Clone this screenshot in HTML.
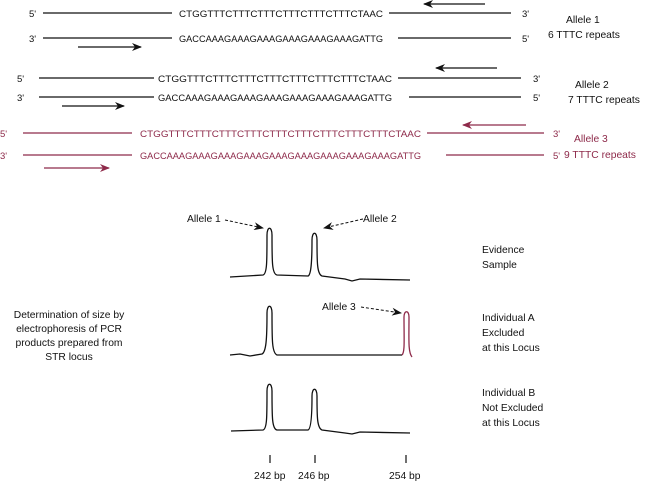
<!DOCTYPE html>
<html><head><meta charset="utf-8"><style>
html,body{margin:0;padding:0;background:#fff;}
svg{display:block;font-family:"Liberation Sans",Arial,sans-serif;}
</style></head><body>
<svg width="650" height="481" viewBox="0 0 650 481" xmlns="http://www.w3.org/2000/svg">
<defs>
<marker id="ab" markerWidth="10" markerHeight="8" refX="9" refY="4" orient="auto" markerUnits="userSpaceOnUse"><path d="M0,0 L10,4 L0,8 L3,4 Z" fill="#111"/></marker>
<marker id="ar" markerWidth="10" markerHeight="8" refX="9" refY="4" orient="auto" markerUnits="userSpaceOnUse"><path d="M0,0 L10,4 L0,8 L3,4 Z" fill="#8e2a4a"/></marker>
<marker id="ad" markerWidth="10" markerHeight="8" refX="9" refY="4" orient="auto" markerUnits="userSpaceOnUse"><path d="M0,0 L10,4 L0,8 L3,4 Z" fill="#111"/></marker>
</defs>
<g font-size="9.5" fill="#111" stroke="none">
<text x="29" y="17">5'</text><text x="29" y="42">3'</text>
<text x="522" y="17">3'</text><text x="522" y="42">5'</text>
<text x="179" y="17" textLength="204" lengthAdjust="spacingAndGlyphs">CTGGTTTCTTTCTTTCTTTCTTTCTTTCTAAC</text>
<text x="179" y="42" textLength="204" lengthAdjust="spacingAndGlyphs">GACCAAAGAAAGAAAGAAAGAAAGAAAGATTG</text>
<text x="17" y="82">5'</text><text x="17" y="101">3'</text>
<text x="533" y="82">3'</text><text x="533" y="101">5'</text>
<text x="158" y="82" textLength="234" lengthAdjust="spacingAndGlyphs">CTGGTTTCTTTCTTTCTTTCTTTCTTTCTTTCTAAC</text>
<text x="158" y="101" textLength="234" lengthAdjust="spacingAndGlyphs">GACCAAAGAAAGAAAGAAAGAAAGAAAGAAAGATTG</text>
</g>
<g font-size="10.3" fill="#111">
<text x="566" y="23">Allele 1</text><text x="548" y="38">6 TTTC repeats</text>
<text x="575" y="88">Allele 2</text><text x="568" y="103">7 TTTC repeats</text>
</g>
<g font-size="9.5" fill="#8e2a4a">
<text x="0" y="137">5'</text><text x="0" y="159">3'</text>
<text x="553" y="137">3'</text><text x="553" y="159">5'</text>
<text x="140" y="137" textLength="281" lengthAdjust="spacingAndGlyphs">CTGGTTTCTTTCTTTCTTTCTTTCTTTCTTTCTTTCTTTCTAAC</text>
<text x="140" y="159" textLength="281" lengthAdjust="spacingAndGlyphs">GACCAAAGAAAGAAAGAAAGAAAGAAAGAAAGAAAGAAAGATTG</text>
<text x="574" y="142" font-size="10.3">Allele 3</text><text x="564" y="158" font-size="10.3">9 TTTC repeats</text>
</g>
<g stroke="#111" stroke-width="1.2">
<line x1="43" y1="13" x2="172" y2="13"/><line x1="389" y1="13" x2="511" y2="13"/>
<line x1="43" y1="38" x2="172" y2="38"/><line x1="398" y1="38" x2="511" y2="38"/>
<line x1="485" y1="4" x2="424" y2="4" marker-end="url(#ab)"/>
<line x1="78" y1="47" x2="141" y2="47" marker-end="url(#ab)"/>
<line x1="39" y1="78" x2="154" y2="78"/><line x1="398" y1="78" x2="521" y2="78"/>
<line x1="39" y1="97" x2="154" y2="97"/><line x1="409" y1="97" x2="521" y2="97"/>
<line x1="497" y1="68" x2="436" y2="68" marker-end="url(#ab)"/>
<line x1="62" y1="106" x2="124" y2="106" marker-end="url(#ab)"/>
</g>
<g stroke="#8e2a4a" stroke-width="1.2">
<line x1="23" y1="133" x2="132" y2="133"/><line x1="427" y1="133" x2="544" y2="133"/>
<line x1="23" y1="155" x2="132" y2="155"/><line x1="446" y1="155" x2="544" y2="155"/>
<line x1="526" y1="125" x2="463" y2="125" marker-end="url(#ar)"/>
<line x1="44" y1="168" x2="109" y2="168" marker-end="url(#ar)"/>
</g>
<g fill="none" stroke="#111" stroke-width="1.3">
<path d="M230,277 L263,275 C267,274 267,262 267,235 C267,226 272,226 272,235 C272,262 272,274 277,275 L308,276 C311,275 312,262 312,240 C312,231 317,231 317,240 C317,262 317,274 322,276 L345,279 L352,281 L360,279 L410,280"/>
<path d="M230,355 L240,354 L250,356 L262,354 C266,352 267,340 267,313 C267,304 272,304 272,313 C272,340 272,353 277,355 L402,355"/>
<path d="M231,431 L263,430 C267,429 267,417 267,391 C267,382 272,382 272,391 C272,417 272,429 277,430 L308,430 C311,429 312,416 312,396 C312,387 317,387 317,396 C317,416 317,428 322,430 L345,433 L352,434 L360,432 L410,433"/>
</g>
<path d="M402,355 C405,352 404,340 404,317 C404,310 409,310 409,317 C409,340 408,352 412,357" fill="none" stroke="#8e2a4a" stroke-width="1.3"/>
<g stroke="#111" stroke-width="1" stroke-dasharray="3,2" fill="none">
<line x1="225" y1="220" x2="263" y2="228" marker-end="url(#ad)"/>
<line x1="363" y1="219" x2="324" y2="228" marker-end="url(#ad)"/>
<line x1="361" y1="307" x2="401" y2="313" marker-end="url(#ad)"/>
</g>
<g stroke="#111" stroke-width="1.2">
<line x1="270" y1="455" x2="270" y2="463"/><line x1="315" y1="455" x2="315" y2="463"/><line x1="406" y1="455" x2="406" y2="463"/>
</g>
<g font-size="10.3" fill="#111">
<text x="187" y="222">Allele 1</text><text x="363" y="222">Allele 2</text><text x="322" y="310">Allele 3</text>
<text x="254" y="479">242 bp</text><text x="298" y="479">246 bp</text><text x="389" y="479">254 bp</text>
<text x="482" y="253">Evidence</text><text x="482" y="268">Sample</text>
<text x="482" y="321">Individual A</text><text x="482" y="336">Excluded</text><text x="482" y="351">at this Locus</text>
<text x="482" y="396">Individual B</text><text x="482" y="411">Not Excluded</text><text x="482" y="426">at this Locus</text>
<g text-anchor="middle"><text x="69" y="318">Determination of size by</text><text x="69" y="332">electrophoresis of PCR</text><text x="69" y="346">products prepared from</text><text x="69" y="360">STR locus</text></g>
</g>
</svg>
</body></html>
